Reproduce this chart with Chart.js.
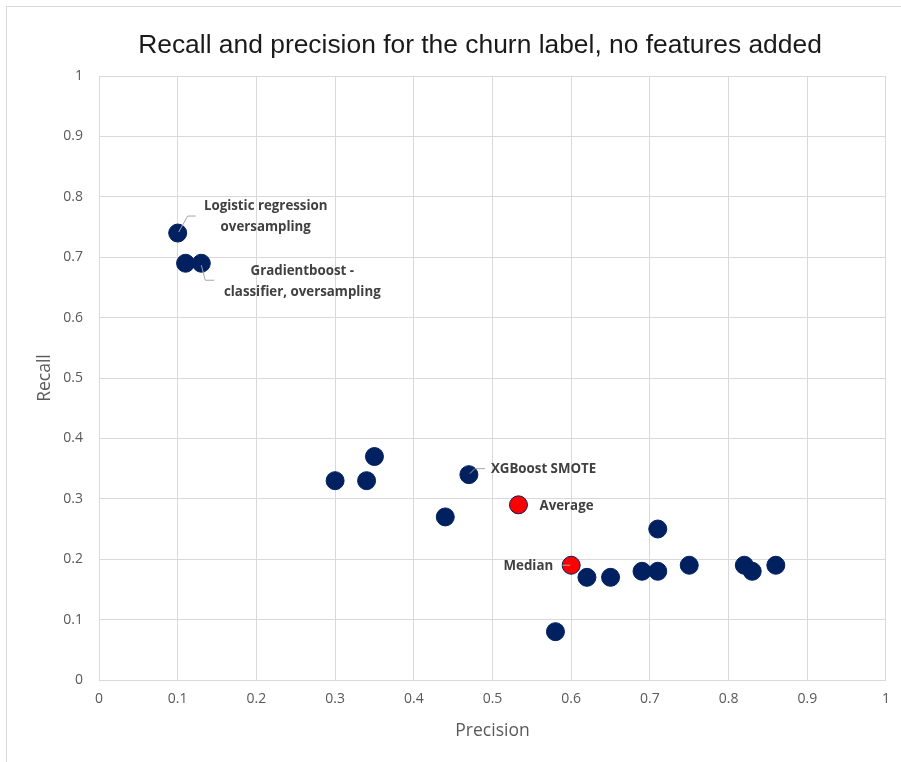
<!DOCTYPE html>
<html>
<head>
<meta charset="utf-8">
<script src="https://cdn.jsdelivr.net/npm/chart.js@4/dist/chart.umd.min.js"></script>
<style>
  html, body { margin: 0; padding: 0; background: #ffffff; overflow: hidden; }
  #wrap { position: relative; width: 901px; height: 762px; }
  #frame { position: absolute; left: 6px; top: 6px; width: 1000px; height: 1000px;
           border: 1.5px solid #d9d9d9; box-sizing: border-box; }
  #chart { position: absolute; left: 0; top: 0; }
</style>
</head>
<body>
<div id="wrap">
  <div id="frame"></div>
  <canvas id="chart" width="901" height="762"></canvas>
</div>
<script>
// Models: precision / recall for the churn label
const modelPrecision = [0.10, 0.11, 0.13, 0.30, 0.34, 0.35, 0.44, 0.47, 0.58, 0.62, 0.65, 0.69, 0.71, 0.71, 0.75, 0.82, 0.83, 0.86];
const modelRecall    = [0.74, 0.69, 0.69, 0.33, 0.33, 0.37, 0.27, 0.34, 0.08, 0.17, 0.17, 0.18, 0.18, 0.25, 0.19, 0.19, 0.18, 0.19];
const modelLabels    = ['Logistic regression|oversampling', '', 'Gradientboost -|classifier, oversampling', '', '', '', '', 'XGBoost SMOTE', '', '', '', '', '', '', '', '', '', ''];

// Summary points
const summaryPrecision = [0.533, 0.60];
const summaryRecall    = [0.29, 0.19];
const summaryLabels    = ['Average', 'Median'];

const axisTicks = [0, 0.1, 0.2, 0.3, 0.4, 0.5, 0.6, 0.7, 0.8, 0.9, 1];

const chartTitle = 'Recall and precision for the churn label, no features added';
const xTitle = 'Precision';
const yTitle = 'Recall';

const toPoints = (xs, ys) => xs.map((x, i) => ({ x: x, y: ys[i] }));

const textFamily = '"Open Sans", Lato, sans-serif';

// Label placement per labelled point: text anchor offset, alignment and leader path (pixels from the marker)
const labelStyle = {
  'Logistic regression|oversampling': { dx: 88, dy: -27, align: 'center', leader: [[1, -1], [10, -17], [18, -17]] },
  'Gradientboost -|classifier, oversampling': { dx: 101, dy: 8, align: 'center', leader: [[0, 2], [4, 17], [13, 17]] },
  'XGBoost SMOTE': { dx: 22, dy: -5, align: 'left', leader: [[1, -1], [6, -6], [16, -6]] },
  'Average': { dx: 21, dy: 1, align: 'left', leader: null },
  'Median': { dx: -18, dy: 1, align: 'right', leader: [[-9, 0], [-1, 0]] }
};

// Chart heading, centred over the figure
const headingPlugin = {
  id: 'heading',
  afterDraw(chart) {
    const ctx = chart.ctx;
    ctx.save();
    ctx.fillStyle = '#1a1a1a';
    ctx.font = '26.4px "Liberation Sans", Arial, sans-serif';
    ctx.textAlign = 'center';
    ctx.textBaseline = 'alphabetic';
    ctx.fillText(chartTitle, 480, 53);
    ctx.restore();
  }
};

const pointLabelPlugin = {
  id: 'pointLabels',
  afterDatasetsDraw(chart) {
    const ctx = chart.ctx;
    const xs = chart.scales.x, ys = chart.scales.y;
    const items = [];
    modelLabels.forEach((t, i) => { if (t) items.push([t, modelPrecision[i], modelRecall[i]]); });
    summaryLabels.forEach((t, i) => items.push([t, summaryPrecision[i], summaryRecall[i]]));
    ctx.save();
    items.forEach(([text, px, py]) => {
      const st = labelStyle[text];
      const cx = xs.getPixelForValue(px);
      const cy = ys.getPixelForValue(py);
      if (st.leader) {
        ctx.beginPath();
        ctx.strokeStyle = '#a6a6a6';
        ctx.lineWidth = 1;
        st.leader.forEach(([ox, oy], k) => {
          if (k === 0) ctx.moveTo(cx + ox, cy + oy); else ctx.lineTo(cx + ox, cy + oy);
        });
        ctx.stroke();
      }
      ctx.fillStyle = '#404040';
      ctx.font = 'bold 13.3px ' + textFamily;
      ctx.textAlign = st.align;
      ctx.textBaseline = 'middle';
      text.split('|').forEach((line, k) => {
        ctx.fillText(line, cx + st.dx, cy + st.dy + k * 21);
      });
    });
    ctx.restore();
  }
};

const tickFont = { family: textFamily, size: 14 };
const gridColor = '#d9d9d9';

new Chart(document.getElementById('chart'), {
  type: 'scatter',
  data: {
    datasets: [
      {
        label: 'Models',
        data: toPoints(modelPrecision, modelRecall),
        backgroundColor: '#002060',
        borderColor: '#002060',
        borderWidth: 1,
        pointRadius: 9,
        pointHoverRadius: 9
      },
      {
        label: 'Summary',
        data: toPoints(summaryPrecision, summaryRecall),
        backgroundColor: '#ff0000',
        borderColor: '#002060',
        borderWidth: 1,
        pointRadius: 9,
        pointHoverRadius: 9
      }
    ]
  },
  options: {
    responsive: false,
    animation: false,
    layout: { padding: { left: 0, right: 15, top: 76, bottom: 0 } },
    plugins: {
      legend: { display: false },
      tooltip: { enabled: false },
      title: { display: false }
    },
    scales: {
      x: {
        type: 'linear',
        min: 0,
        max: 1,
        afterBuildTicks: (s) => { s.ticks = axisTicks.map(v => ({ value: v })); },
        afterFit: (s) => { s.height = 82; },
        ticks: {
          color: '#595959',
          font: tickFont,
          padding: 11,
          callback: (v) => String(Math.round(v * 10) / 10)
        },
        grid: { color: gridColor, lineWidth: 1, drawTicks: false },
        border: { color: gridColor, width: 1 },
        title: {
          display: true,
          text: xTitle,
          color: '#595959',
          font: { family: textFamily, size: 17.5 },
          padding: { top: 0, bottom: 20.5 }
        }
      },
      y: {
        type: 'linear',
        min: 0,
        max: 1,
        afterBuildTicks: (s) => { s.ticks = axisTicks.map(v => ({ value: v })); },
        afterFit: (s) => { s.width = 99; },
        ticks: {
          color: '#595959',
          font: tickFont,
          padding: 16,
          callback: (v) => String(Math.round(v * 10) / 10)
        },
        grid: { color: gridColor, lineWidth: 1, drawTicks: false },
        border: { color: gridColor, width: 1 },
        title: {
          display: true,
          text: yTitle,
          color: '#595959',
          font: { family: textFamily, size: 17.5 },
          padding: { top: 34.5, bottom: 0 }
        }
      }
    }
  },
  plugins: [pointLabelPlugin, headingPlugin]
});
</script>
</body>
</html>
